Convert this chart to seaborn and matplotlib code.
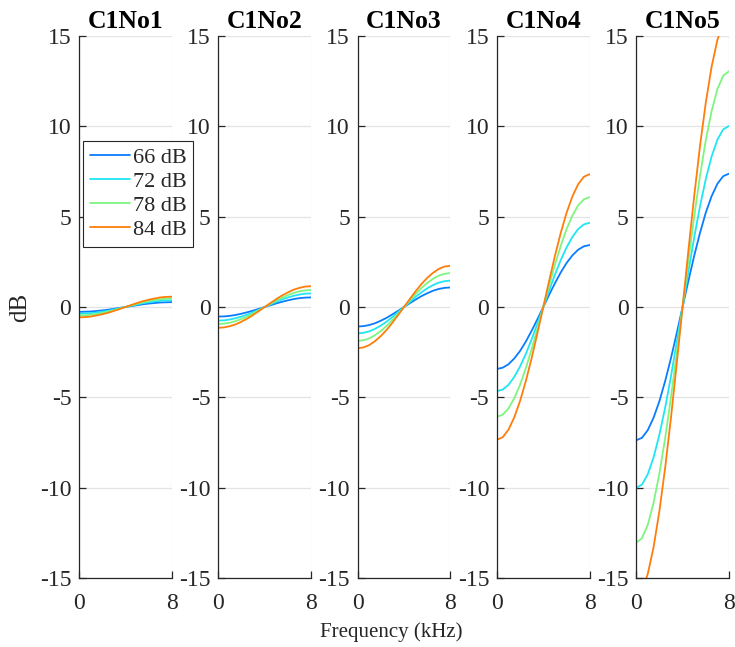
import matplotlib
matplotlib.use("Agg")
import matplotlib.pyplot as plt
import seaborn as sns
import pandas as pd
from matplotlib.lines import Line2D

sns.set_theme(style="white")
plt.rcParams['font.family'] = ['Liberation Serif', 'DejaVu Serif']

freq_khz = [0, 0.5, 1, 1.5, 2, 2.5, 3, 3.5, 4, 4.5, 5, 5.5, 6, 6.5, 7, 7.5, 8]
levels = ["66 dB", "72 dB", "78 dB", "84 dB"]
panels = ["C1No1", "C1No2", "C1No3", "C1No4", "C1No5"]
colors = ["#0a7cff", "#1fe6f2", "#7ef57e", "#ff7d0a"]
yticks = [-15, -10, -5, 0, 5, 10, 15]
xticks = [0, 8]

c1no1 = [
    [-0.27, -0.26, -0.25, -0.22, -0.19, -0.15, -0.10, -0.05, 0, 0.05, 0.10, 0.15, 0.19, 0.22, 0.25, 0.26, 0.27],
    [-0.37, -0.36, -0.34, -0.31, -0.26, -0.21, -0.14, -0.07, 0, 0.07, 0.14, 0.21, 0.26, 0.31, 0.34, 0.36, 0.37],
    [-0.47, -0.46, -0.43, -0.39, -0.33, -0.26, -0.18, -0.09, 0, 0.09, 0.18, 0.26, 0.33, 0.39, 0.43, 0.46, 0.47],
    [-0.57, -0.56, -0.53, -0.47, -0.40, -0.32, -0.22, -0.11, 0, 0.11, 0.22, 0.32, 0.40, 0.47, 0.53, 0.56, 0.57],
]
c1no2 = [
    [-0.53, -0.52, -0.49, -0.44, -0.37, -0.29, -0.20, -0.10, 0, 0.10, 0.20, 0.29, 0.37, 0.44, 0.49, 0.52, 0.53],
    [-0.75, -0.74, -0.69, -0.62, -0.53, -0.42, -0.29, -0.15, 0, 0.15, 0.29, 0.42, 0.53, 0.62, 0.69, 0.74, 0.75],
    [-0.94, -0.92, -0.87, -0.78, -0.66, -0.52, -0.36, -0.18, 0, 0.18, 0.36, 0.52, 0.66, 0.78, 0.87, 0.92, 0.94],
    [-1.15, -1.13, -1.06, -0.96, -0.81, -0.64, -0.44, -0.22, 0, 0.22, 0.44, 0.64, 0.81, 0.96, 1.06, 1.13, 1.15],
]
c1no3 = [
    [-1.08, -1.06, -1.00, -0.90, -0.76, -0.60, -0.41, -0.21, 0, 0.21, 0.41, 0.60, 0.76, 0.90, 1.00, 1.06, 1.08],
    [-1.46, -1.43, -1.35, -1.21, -1.03, -0.81, -0.56, -0.28, 0, 0.28, 0.56, 0.81, 1.03, 1.21, 1.35, 1.43, 1.46],
    [-1.88, -1.84, -1.74, -1.56, -1.33, -1.05, -0.72, -0.37, 0, 0.37, 0.72, 1.05, 1.33, 1.56, 1.74, 1.84, 1.88],
    [-2.28, -2.24, -2.11, -1.89, -1.61, -1.27, -0.87, -0.44, 0, 0.44, 0.87, 1.27, 1.61, 1.89, 2.11, 2.24, 2.28],
]
c1no4 = [
    [-3.43, -3.36, -3.17, -2.85, -2.43, -1.91, -1.31, -0.67, 0, 0.67, 1.31, 1.91, 2.43, 2.85, 3.17, 3.36, 3.43],
    [-4.66, -4.57, -4.31, -3.87, -3.29, -2.59, -1.78, -0.91, 0, 0.91, 1.78, 2.59, 3.29, 3.87, 4.31, 4.57, 4.66],
    [-6.08, -5.96, -5.62, -5.05, -4.30, -3.38, -2.33, -1.19, 0, 1.19, 2.33, 3.38, 4.30, 5.05, 5.62, 5.96, 6.08],
    [-7.35, -7.21, -6.79, -6.11, -5.20, -4.09, -2.82, -1.43, 0, 1.43, 2.82, 4.09, 5.20, 6.11, 6.79, 7.21, 7.35],
]
c1no5 = [
    [-7.38, -7.24, -6.82, -6.13, -5.22, -4.10, -2.83, -1.44, 0, 1.44, 2.83, 4.10, 5.22, 6.13, 6.82, 7.24, 7.38],
    [-10.02, -9.83, -9.26, -8.33, -7.08, -5.57, -3.84, -1.95, 0, 1.95, 3.84, 5.57, 7.08, 8.33, 9.26, 9.83, 10.02],
    [-13.05, -12.80, -12.06, -10.84, -9.23, -7.26, -5.00, -2.54, 0, 2.54, 5.00, 7.26, 9.23, 10.84, 12.06, 12.80, 13.05],
    [-16.00, -15.70, -14.78, -13.30, -11.31, -8.90, -6.13, -3.12, 0, 3.12, 6.13, 8.90, 11.31, 13.30, 14.78, 15.70, 16.00],
]
panel_data = [c1no1, c1no2, c1no3, c1no4, c1no5]

rows = []
for pname, pdata in zip(panels, panel_data):
    for lev, series in zip(levels, pdata):
        for f, v in zip(freq_khz, series):
            rows.append({"panel": pname, "level": lev, "freq": f, "dB": v})
df = pd.DataFrame(rows)

fig, axes = plt.subplots(1, 5, figsize=(7.35, 6.47), dpi=100)
fig.subplots_adjust(left=79/735, right=729/735, top=1-36/647, bottom=1-578/647, wspace=0.5)

dark = "#262626"
for i, (ax, pname) in enumerate(zip(axes, panels)):
    sub = df[df["panel"] == pname]
    sns.lineplot(data=sub, x="freq", y="dB", hue="level", hue_order=levels,
                 palette=colors, linewidth=1.3, ax=ax, legend=False, sort=False,
                 estimator=None)
    for ln in ax.get_lines():
        ln.set_solid_joinstyle("round")
    ax.set_xlim(0, 8)
    ax.set_ylim(-15, 15)
    ax.set_xticks(xticks)
    ax.set_yticks(yticks)
    ax.set_yticklabels([str(t) for t in yticks])
    ax.grid(True, color="#e3e3e3", linewidth=0.9)
    ax.set_axisbelow(True)
    for s in ["top", "right"]:
        ax.spines[s].set_visible(False)
    for s in ["left", "bottom"]:
        ax.spines[s].set_color(dark)
        ax.spines[s].set_linewidth(0.9)
    ax.tick_params(axis="both", direction="in", length=5, width=0.9, colors=dark,
                   labelsize=17, left=True, bottom=True)
    ax.tick_params(axis="x", pad=10.5)
    ax.tick_params(axis="y", pad=5.5)
    ax.set_title(pname, fontsize=18.5, fontweight="bold", pad=6, color="black")
    ax.set_xlabel("")
    ax.set_ylabel("")

axes[0].set_ylabel("dB", fontsize=18, color=dark, labelpad=6)

handles = [Line2D([0], [0], color=c, linewidth=1.3) for c in colors]
leg = axes[0].legend(handles, levels, loc="upper left",
                     bbox_to_anchor=(83/735, 1-141/647), bbox_transform=fig.transFigure,
                     fontsize=16, frameon=True, fancybox=False, framealpha=1,
                     edgecolor=dark, handlelength=1.8, handletextpad=0.15,
                     labelspacing=0.15, borderpad=0.3, borderaxespad=0)
leg.get_frame().set_linewidth(0.8)

fig.text(391/735, 1-632/647, "Frequency (kHz)", ha="center", va="center",
         fontsize=15, color=dark)

fig.savefig("out.png", dpi=100)
